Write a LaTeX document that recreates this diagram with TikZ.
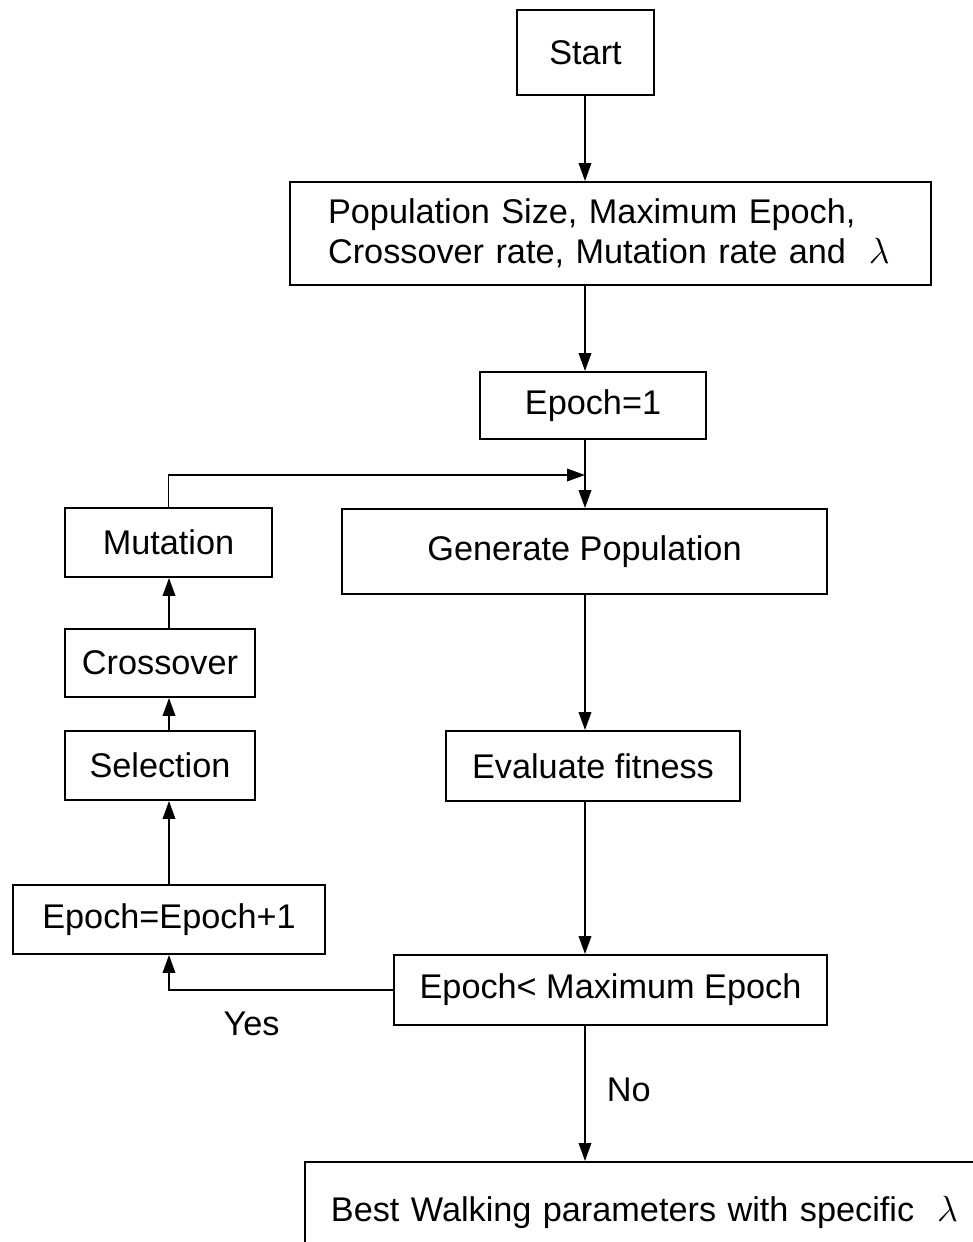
\documentclass[tikz,border=0pt]{standalone}
\usepackage{amsmath}
\usepackage{fontspec}
\setmainfont{Liberation Sans}
\usetikzlibrary{arrows.meta}

\begin{document}
\begin{tikzpicture}[->,>={Triangle[length=0.36cm,width=0.25cm]},line width=1.1pt,
        x=0.02cm,y=-0.02cm,
        box/.style={draw,rectangle,inner sep=0pt,font=\fontsize{19.5}{22.7}\selectfont}]

  \useasboundingbox (0,0) rectangle (973,1242);

  \node[box,minimum width=2.74cm,minimum height=1.70cm] (start) at (585.5,52.5) {Start};
  \node[box,minimum height=2.06cm,inner xsep=0.76cm,text width=11.30cm,align=left] (params) at (610.5,233.5)
        {Population Size, Maximum Epoch,\\Crossover rate, Mutation rate and \ $\lambda$};
  \node[box,minimum width=4.52cm,minimum height=1.34cm] (epoch1) at (593,405.5) {Epoch=1};
  \node[box,minimum width=9.70cm,minimum height=1.70cm] (gen) at (584.5,551.5) {Generate Population};
  \node[box,minimum width=5.88cm,minimum height=1.40cm] (eval) at (593,766) {Evaluate fitness};
  \node[box,minimum width=8.66cm,minimum height=1.40cm] (cond) at (610.5,990) {Epoch< Maximum Epoch};
  \node[box,minimum height=2.00cm,inner xsep=0.52cm,text width=13.0cm,align=left,anchor=north west] (best) at (304,1161)
        {Best Walking parameters with specific \ $\lambda$};

  \node[box,minimum width=6.24cm,minimum height=1.38cm] (inc) at (169,919.5) {Epoch=Epoch+1};
  \node[box,minimum width=3.80cm,minimum height=1.38cm] (sel) at (160,765.5) {Selection};
  \node[box,minimum width=3.80cm,minimum height=1.36cm] (cross) at (160,663) {Crossover};
  \node[box,minimum width=4.14cm,minimum height=1.38cm] (mut) at (168.5,542.5) {Mutation};

  \coordinate (join) at (585,475);

  \draw (start.south -| join) -- (params.north -| join);
  \draw (params.south -| join) -- (epoch1.north -| join);
  \draw (epoch1.south -| join) -- (gen.north -| join);
  \draw (gen.south -| join) -- (eval.north -| join);
  \draw (eval.south -| join) -- (cond.north -| join);
  \draw (cond.south -| join) -- node[right=0.3cm,pos=0.47,font=\fontsize{19.5}{22.7}\selectfont] {No} (best.north -| join);

  \draw (cond.west) -| node[below=0.3cm,pos=0.316,font=\fontsize{19.5}{22.7}\selectfont] {Yes} (inc.south);
  \draw (inc.north) -- (inc.north |- sel.south);
  \draw (sel.north -| inc.north) -- (cross.south -| inc.north);
  \draw (cross.north -| inc.north) -- (mut.south -| inc.north);
  \draw (mut.north) |- (join);

\end{tikzpicture}
\end{document}
